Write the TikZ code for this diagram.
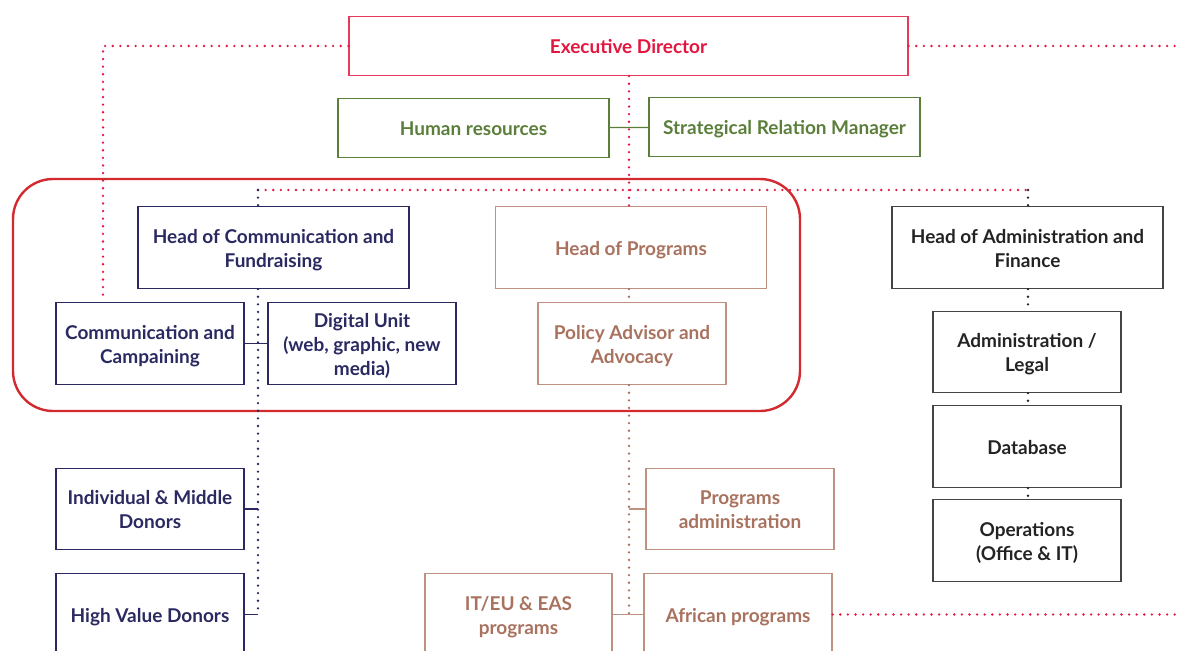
\documentclass[tikz,border=0pt]{standalone}
\usepackage{fontspec}
\setmainfont{Lato}
\definecolor{edred}{HTML}{E3163F}
\definecolor{framered}{HTML}{D22A2F}
\definecolor{hrgreen}{HTML}{5B7F3B}
\definecolor{commnavy}{HTML}{2A2961}
\definecolor{progbrown}{HTML}{A8725E}
\definecolor{progline}{HTML}{C09080}
\definecolor{admblack}{HTML}{232323}
% fixed line height so every label sits at the same depth
\newcommand\boxstrut{\rule[-4.5pt]{0pt}{24.6pt}}

\begin{document}
\begin{tikzpicture}[x=1pt,y=-1pt]
	\tikzset{box/.style={draw,line width=1.3pt,align=center,inner sep=0pt,
		font=\bfseries\fontsize{19}{24}\selectfont,
		execute at begin node=\boxstrut,execute at end node=\boxstrut}}
	\tikzset{wide/.style={box,minimum width=271pt,minimum height=82pt}}
	\tikzset{unit/.style={box,minimum width=188pt,minimum height=82pt}}
	\tikzset{dots/.style={line width=2.6pt,line cap=round,dash pattern=on 0pt off 7.6pt}}
	\tikzset{link/.style={line width=1.3pt}}

	\useasboundingbox (0,0) rectangle (1182,650);
	\clip (0,0) rectangle (1182,650);

	% top level
	\node[box,draw=edred!85,text=edred,minimum width=559pt,minimum height=59pt] (exec) at (628.5,46) {Executive Director};
	\node[box,draw=hrgreen,text=hrgreen,minimum width=271pt,minimum height=59pt] (hr) at (473.5,128) {Human resources};
	\node[box,draw=hrgreen,text=hrgreen,minimum width=271pt,minimum height=59pt] (srm) at (784.5,127) {Strategical Relation Manager};

	% heads
	\draw[framered,line width=2.4pt,rounded corners=40pt] (13,179) rectangle (800,411);
	\node[wide,draw=commnavy,text=commnavy] (hcf) at (273.5,247.5) {\boxstrut Head of Communication and\\Fundraising};
	\node[wide,draw=progline,text=progbrown] (hp) at (631,247.5) {Head of Programs};
	\node[wide,draw=admblack!85,text=admblack] (haf) at (1027.5,247.5) {\boxstrut Head of Administration and\\Finance};

	% communication and fundraising
	\node[unit,draw=commnavy,text=commnavy] (cc) at (150,343.5) {\boxstrut Communication and\\Campaining};
	\node[unit,draw=commnavy,text=commnavy] (du) at (362,343.5) {\boxstrut Digital Unit\\(web, graphic, new\\media)};
	\node[unit,draw=commnavy,text=commnavy,minimum height=81pt] (imd) at (150,509) {\boxstrut Individual \& Middle\\Donors};
	\node[unit,draw=commnavy,text=commnavy] (hvd) at (150,614.5) {High Value Donors};

	% programs
	\node[unit,draw=progline,text=progbrown] (pa) at (632,343.5) {\boxstrut Policy Advisor and\\Advocacy};
	\node[unit,draw=progline,text=progbrown,minimum height=81pt] (pad) at (740,509) {\boxstrut Programs\\administration};
	\node[unit,draw=progline,text=progbrown,minimum width=187pt] (iteu) at (518.5,614.5) {\boxstrut IT/EU \& EAS\\programs};
	\node[unit,draw=progline,text=progbrown] (afr) at (738,614.5) {African programs};

	% administration and finance
	\node[unit,draw=admblack!85,text=admblack,minimum height=81pt] (al) at (1027,352) {\boxstrut Administration /\\Legal};
	\node[unit,draw=admblack!85,text=admblack] (db) at (1027,446.5) {Database};
	\node[unit,draw=admblack!85,text=admblack] (ops) at (1027,540.5) {\boxstrut Operations\\(Office \& IT)};

	\coordinate (ctr) at (629,190);
	\coordinate (commx) at (258,190);
	\coordinate (admx) at (1028,190);
	\coordinate (cctop) at (103,302);
	\coordinate (edge) at (1182,0);

	% red dotted lines
	\draw[dots,edred] (exec.west) -| (cctop);
	\draw[dots,edred] (exec.east) -- (exec.east -| edge);
	\draw[dots,edred] (exec.south -| ctr) -- (hp.north -| ctr);
	\draw[dots,edred] (commx) -- (admx);
	\draw[dots,edred] (afr.east) -- (afr.east -| edge);

	\draw[link,hrgreen] (hr) -- (srm);

	\draw[dots,commnavy] (commx) -- (hcf.north -| commx);
	\draw[dots,commnavy] (hcf.south -| commx) -- (hvd.east -| commx);
	\draw[link,commnavy] (cc) -- (du);
	\draw[link,commnavy] (imd.east) -- (imd.east -| commx);
	\draw[link,commnavy] (hvd.east) -- (hvd.east -| commx);

	\draw[dots,progbrown] (hp.south -| ctr) -- (pa.north -| ctr);
	\draw[dots,progbrown] (pa.south -| ctr) -- (afr.west -| ctr);
	\draw[link,progline] (pad.west) -- (pad.west -| ctr);
	\draw[link,progline] (iteu) -- (afr);

	\draw[dots,admblack] (admx) -- (haf.north -| admx);
	\draw[dots,admblack] (haf.south -| admx) -- (al.north -| admx);
	\draw[dots,admblack] (al.south -| admx) -- (db.north -| admx);
	\draw[dots,admblack] (db.south -| admx) -- (ops.north -| admx);
\end{tikzpicture}
\end{document}
